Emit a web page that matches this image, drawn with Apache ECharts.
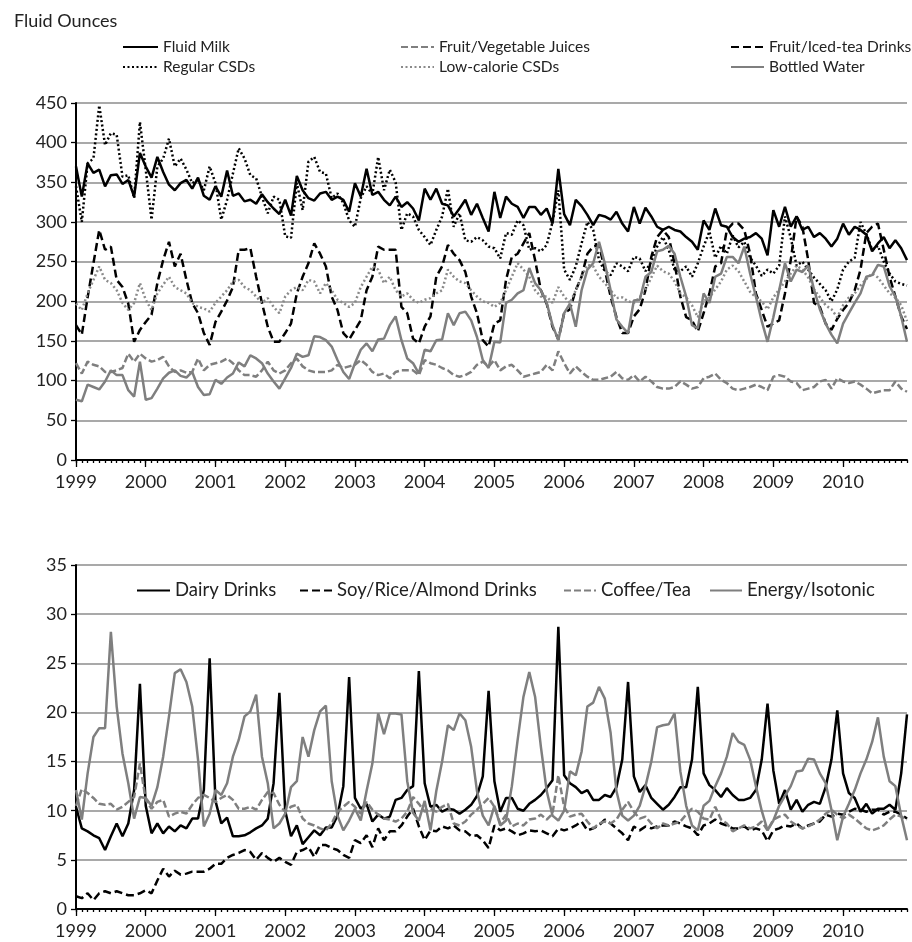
<!DOCTYPE html>
<html>
<head>
<meta charset="utf-8">
<script src="https://cdn.jsdelivr.net/npm/echarts@6/dist/echarts.min.js"></script>
<style>
html, body { margin: 0; padding: 0; background: #fff; }
#chart { width: 912px; height: 942px; }
</style>
</head>
<body>
<div id="chart"></div>
<script>
var years = ['1999','2000','2001','2002','2003','2004','2005','2006','2007','2008','2009','2010'];
var topTicks = [0, 50, 100, 150, 200, 250, 300, 350, 400, 450];
var bottomTicks = [0, 5, 10, 15, 20, 25, 30, 35];

var fluidMilk = [
  370,332,374,362,366,345,359,360,348,353,332,387,
  370,356,382,363,347,340,349,353,342,356,333,328,
  345,332,365,333,336,326,328,323,335,325,317,310,
  328,308,358,340,330,327,336,338,328,332,328,313,
  349,332,367,334,338,328,321,332,319,325,317,302,
  342,328,342,323,321,307,317,328,309,323,305,288,
  338,305,332,323,319,305,319,319,309,317,298,367,
  310,296,328,320,309,296,309,307,303,313,298,288,
  319,298,318,307,294,290,294,290,288,281,275,265,
  302,290,317,296,294,281,275,279,281,286,279,258,
  315,294,319,294,307,290,294,281,286,279,269,279,
  298,284,294,290,284,263,273,281,267,277,267,252
];
var fruitVegJuices = [
  122,109,124,120,118,111,111,113,116,134,124,134,
  128,124,126,130,118,111,113,110,111,128,113,120,
  122,124,128,122,113,107,107,105,113,124,113,109,
  113,122,128,118,113,111,111,111,113,120,116,118,
  120,126,120,111,107,109,103,111,113,113,113,107,
  126,122,120,116,113,107,105,107,111,120,124,118,
  126,113,118,120,113,105,107,109,111,120,113,137,
  122,109,118,111,105,101,101,103,105,111,103,101,
  107,99,105,99,92,90,90,92,99,95,90,92,
  103,105,109,101,97,90,88,90,92,95,92,88,
  105,107,105,99,97,88,90,92,99,101,90,103,
  99,97,99,95,90,84,86,88,88,99,90,86
];
var fruitIcedTea = [
  170,158,205,248,290,265,269,227,218,197,149,164,
  174,183,223,252,275,244,260,227,198,185,160,145,
  174,187,201,218,265,265,267,231,198,168,149,149,
  160,172,210,231,248,273,260,244,206,189,160,152,
  164,176,214,231,269,265,265,265,193,185,153,147,
  168,181,231,244,271,260,252,237,206,185,151,143,
  172,176,227,256,260,273,286,252,214,197,168,152,
  185,190,214,231,260,269,271,240,206,180,160,160,
  181,190,214,256,281,290,281,248,206,180,176,162,
  185,210,244,248,290,298,298,290,260,210,189,168,
  172,176,210,252,307,294,252,198,193,172,164,178,
  189,198,214,240,286,294,298,265,231,206,181,165
];
var regularCSDs = [
  345,300,374,380,447,397,412,410,357,359,330,426,
  366,303,370,380,405,370,380,366,349,353,340,370,
  349,303,328,361,393,380,359,355,332,311,332,328,
  282,280,349,315,376,382,363,361,330,336,324,302,
  294,330,345,335,382,340,366,350,290,311,307,290,
  281,271,290,307,342,294,311,277,275,281,277,269,
  267,254,286,284,302,296,265,267,263,271,300,340,
  240,227,244,273,300,290,252,238,233,248,244,238,
  256,254,238,250,269,281,265,240,238,244,231,248,
  269,288,255,270,260,283,268,275,255,245,232,240,
  235,245,307,280,245,250,240,230,222,214,200,215,
  240,250,255,300,285,265,270,250,235,225,222,220
];
var lowCalCSDs = [
  197,189,210,227,244,227,223,214,198,189,198,223,
  202,189,210,221,231,218,214,210,198,193,191,187,
  198,206,214,225,227,218,214,206,198,204,193,185,
  206,214,218,214,227,225,210,223,214,202,198,193,
  198,218,231,244,240,223,231,214,206,210,202,198,
  202,204,210,214,240,231,225,223,214,206,200,198,
  193,198,214,231,248,240,231,214,206,206,198,218,
  206,198,214,231,246,244,231,223,214,204,205,200,
  198,205,215,230,245,238,235,225,210,205,195,180,
  200,205,215,225,240,245,238,225,212,205,200,190,
  205,215,225,235,245,240,230,215,205,195,190,180,
  195,205,210,220,228,235,230,220,210,205,195,175
];
var bottledWater = [
  76,74,95,92,89,99,113,107,107,88,80,124,
  76,78,90,103,110,113,106,104,111,92,82,83,
  101,96,104,109,123,118,132,128,122,109,99,90,
  103,116,134,130,132,156,155,151,143,126,111,102,
  122,139,147,137,152,153,170,181,151,128,122,109,
  139,137,151,152,185,170,185,187,176,155,126,116,
  149,148,198,202,210,214,242,223,214,198,170,151,
  185,197,168,214,240,248,275,248,214,177,168,160,
  201,202,231,237,263,265,270,260,231,206,170,166,
  210,198,231,235,256,256,248,269,235,206,175,149,
  180,214,248,225,240,237,245,215,190,172,158,147,
  172,185,198,210,231,233,246,244,219,206,181,149
];
var dairyDrinks = [
  10.4,8.2,7.9,7.5,7.2,6.0,7.4,8.7,7.4,8.7,12.1,22.9,
  10.5,7.7,8.7,7.7,8.4,7.9,8.5,8.2,9.2,9.2,12.1,25.5,
  11.0,8.7,9.3,7.4,7.4,7.5,7.8,8.2,8.5,9.2,12.8,22.0,
  10.0,7.4,8.5,6.6,7.3,8.0,7.5,8.3,8.3,9.5,12.5,23.6,
  11.3,10.2,10.7,8.9,9.6,9.2,9.4,11.1,11.3,12.1,12.5,24.2,
  12.8,10.4,10.6,9.9,10.2,10.1,9.7,10.1,10.6,11.5,13.5,22.2,
  13.0,9.9,11.3,11.3,10.2,10.0,10.7,11.1,11.6,12.3,13.1,28.7,
  13.6,12.8,12.4,11.8,12.1,11.1,11.1,11.6,11.4,12.4,15.2,23.1,
  13.5,11.9,12.6,11.3,10.7,10.1,10.6,11.4,12.4,12.4,15.2,22.6,
  13.8,12.6,12.1,11.4,12.3,11.6,11.1,11.1,11.3,12.1,15.2,20.9,
  14.1,10.7,12.1,10.1,11.1,9.9,10.6,10.9,10.7,12.4,15.2,20.2,
  13.8,11.8,11.3,9.9,10.7,9.7,10.2,10.2,10.6,10.1,13.8,19.8
];
var soyRiceAlmond = [
  1.3,1.1,1.6,0.9,1.6,1.8,1.6,1.8,1.6,1.4,1.4,1.6,
  1.9,1.6,2.9,4.1,3.3,3.9,3.5,3.6,3.8,3.8,3.8,4.1,
  4.6,4.6,5.2,5.5,5.7,6.0,5.8,5.0,5.7,5.2,4.8,5.2,
  4.8,4.5,5.8,6.0,6.3,5.3,6.5,6.5,6.2,6.0,5.5,5.2,
  7.0,6.7,7.5,6.3,8.2,7.0,7.9,7.9,8.5,9.4,10.2,8.4,
  7.0,8.0,7.9,8.4,8.2,8.5,8.0,7.9,7.4,7.5,7.0,6.2,
  8.5,8.0,8.2,7.9,7.5,7.7,8.0,7.9,8.0,7.7,7.4,8.2,
  8.0,8.2,8.5,8.9,8.0,8.2,8.5,9.1,8.7,8.2,7.7,7.0,
  8.4,8.0,8.4,8.2,8.4,8.5,8.5,8.9,8.7,8.4,8.2,7.5,
  8.5,8.7,9.1,8.7,8.5,8.2,8.2,8.4,8.0,8.2,8.0,6.9,
  8.0,8.2,8.5,8.4,8.7,8.2,8.5,8.7,8.9,9.6,9.4,9.7,
  9.6,9.9,10.2,10.1,9.9,10.1,10.1,9.6,9.9,9.9,9.6,9.2
];
var coffeeTea = [
  10.5,12.2,11.8,11.3,10.7,10.6,10.7,10.1,10.4,10.9,11.4,14.8,
  11.1,10.2,10.9,11.1,9.4,9.7,9.9,9.7,10.6,11.3,11.6,11.3,
  10.9,11.3,11.6,11.1,10.2,10.2,10.4,10.1,11.1,11.9,11.8,10.6,
  9.9,10.4,10.6,9.2,8.7,8.5,8.2,8.0,8.7,9.9,10.4,10.9,
  10.4,9.7,10.9,10.1,9.6,9.2,9.1,8.9,9.2,9.9,11.4,10.7,
  9.9,10.2,9.9,10.4,10.7,8.7,8.5,8.9,9.6,10.1,10.7,11.3,
  10.4,8.7,9.6,8.4,8.7,8.5,9.1,9.2,9.6,9.1,9.7,13.6,
  10.4,9.4,9.6,9.7,8.9,8.2,8.7,8.9,8.7,9.1,10.1,10.9,
  9.9,9.2,9.4,8.7,8.2,8.7,8.5,8.7,8.9,9.6,10.2,9.9,
  9.2,9.1,10.4,9.1,8.7,7.9,8.2,8.5,8.2,8.4,8.9,8.0,
  9.1,9.4,9.6,8.9,8.5,8.2,8.4,8.7,9.1,9.7,10.1,9.6,
  9.2,9.6,9.2,8.7,8.2,8.0,8.2,8.5,9.1,9.6,9.4,9.1
];
var energyIsotonic = [
  12.1,9.1,13.8,17.5,18.4,18.4,28.2,20.6,15.8,12.8,9.2,11.4,
  11.3,10.5,12.4,15.5,19.6,24.0,24.4,23.1,20.6,15.2,8.4,9.7,
  12.1,11.6,12.8,15.5,17.2,19.6,20.1,21.8,15.5,12.8,8.2,8.7,
  9.7,12.4,13.0,17.5,15.5,18.2,20.1,20.7,13.0,9.5,8.0,9.0,
  10.2,9.0,12.0,14.8,19.9,17.8,19.9,19.9,19.8,13.0,9.8,9.0,
  11.0,8.0,12.0,15.0,18.7,18.2,19.9,19.2,16.5,12.0,9.5,8.5,
  10.5,8.5,9.0,12.5,17.2,21.6,24.1,21.6,16.5,12.0,9.5,9.0,
  10.0,14.0,13.6,16.0,20.6,21.0,22.6,21.4,17.9,12.0,9.5,9.0,
  9.5,10.5,12.5,15.0,18.5,18.7,18.8,19.9,14.0,10.5,8.5,8.0,
  10.5,11.0,12.5,13.8,15.5,17.9,17.0,16.7,15.2,12.5,10.0,8.0,
  9.0,10.5,11.5,12.5,14.0,14.1,15.3,15.2,13.8,12.8,10.1,7.0,
  9.4,10.7,12.1,13.8,15.2,17.0,19.5,15.5,13.0,12.5,9.5,7.0
];

// one category per month, labelled by year
var months = [];
years.forEach(function (y) {
  for (var m = 1; m <= 12; m++) months.push(y + '-' + (m < 10 ? '0' + m : m));
});

var FONT = 'Lato';
var GREY = '#7f7f7f';

function monthAxis(gridIndex, major) {
  return {
    type: 'category', gridIndex: gridIndex, data: months, boundaryGap: false,
    position: 'bottom', offset: 0,
    axisLine: { show: !major, lineStyle: { color: '#000', width: 2 } },
    axisTick: { show: true, interval: major ? 11 : 0, length: major ? 7 : 3,
      lineStyle: { color: '#000', width: 1.3 } },
    axisLabel: { show: !major, interval: 11, margin: 13, color: '#222',
      fontFamily: FONT, fontSize: 18,
      formatter: function (v) { return v.slice(0, 4); } },
    splitLine: { show: false }
  };
}

function valueAxis(gridIndex, ticks) {
  return {
    type: 'value', gridIndex: gridIndex,
    min: ticks[0], max: ticks[ticks.length - 1], interval: ticks[1] - ticks[0],
    axisLine: { show: true, lineStyle: { color: '#000', width: 2 } },
    axisTick: { show: true, length: 5, lineStyle: { color: '#000', width: 1.3 } },
    axisLabel: { margin: 9, color: '#222', fontFamily: FONT, fontSize: 18 },
    splitLine: { show: true, lineStyle: { color: '#8c8c8c', width: 1.5 } }
  };
}

function line(name, data, color, type, axis) {
  return {
    name: name, type: 'line', data: data, symbol: 'none', silent: true,
    xAxisIndex: axis * 2, yAxisIndex: axis,
    lineStyle: { color: color, width: 2.5, type: type, cap: 'butt' },
    itemStyle: { color: color }
  };
}

// one legend box per item so each sample sits where the original puts it
function legendItem(name, left, top, width, size) {
  return {
    data: [name], left: left, top: top, itemWidth: width, itemHeight: 14,
    selectedMode: false,
    itemStyle: { opacity: 0 },
    textStyle: { fontFamily: FONT, fontSize: size, color: '#222' }
  };
}

var chart = echarts.init(document.getElementById('chart'), null, { renderer: 'canvas' });
chart.setOption({
  animation: false,
  backgroundColor: '#fff',
  title: { text: 'Fluid Ounces', left: 9, top: 7,
    textStyle: { fontFamily: FONT, fontSize: 18, fontWeight: 'normal', color: '#222' } },
  legend: [
    legendItem('Fluid Milk', 117, 34, 35, 15.5),
    legendItem('Regular CSDs', 117, 54, 35, 15.5),
    legendItem('Fruit/Vegetable Juices', 395, 34, 33, 15.5),
    legendItem('Low-calorie CSDs', 395, 54, 33, 15.5),
    legendItem('Fruit/Iced-tea Drinks', 725, 34, 33, 15.5),
    legendItem('Bottled Water', 725, 54, 33, 15.5),
    legendItem('Dairy Drinks', 131, 576, 33, 18.5),
    legendItem('Soy/Rice/Almond Drinks', 294, 576, 32, 18.5),
    legendItem('Coffee/Tea', 558, 576, 32, 18.5),
    legendItem('Energy/Isotonic', 704, 576, 32, 18.5)
  ],
  grid: [
    { left: 76, right: 5, top: 103, height: 357 },
    { left: 76, right: 5, top: 565, height: 344 }
  ],
  xAxis: [monthAxis(0, false), monthAxis(0, true), monthAxis(1, false), monthAxis(1, true)],
  yAxis: [valueAxis(0, topTicks), valueAxis(1, bottomTicks)],
  series: [
    line('Fluid Milk', fluidMilk, '#000', 'solid', 0),
    line('Fruit/Vegetable Juices', fruitVegJuices, GREY, [7, 3], 0),
    line('Fruit/Iced-tea Drinks', fruitIcedTea, '#000', [8, 4], 0),
    line('Regular CSDs', regularCSDs, '#000', [2, 2.5], 0),
    line('Low-calorie CSDs', lowCalCSDs, '#8a8a8a', [2, 2.5], 0),
    line('Bottled Water', bottledWater, GREY, 'solid', 0),
    line('Dairy Drinks', dairyDrinks, '#000', 'solid', 1),
    line('Soy/Rice/Almond Drinks', soyRiceAlmond, '#000', [8, 4], 1),
    line('Coffee/Tea', coffeeTea, GREY, [7, 3], 1),
    line('Energy/Isotonic', energyIsotonic, GREY, 'solid', 1)
  ]
});
</script>
</body>
</html>
